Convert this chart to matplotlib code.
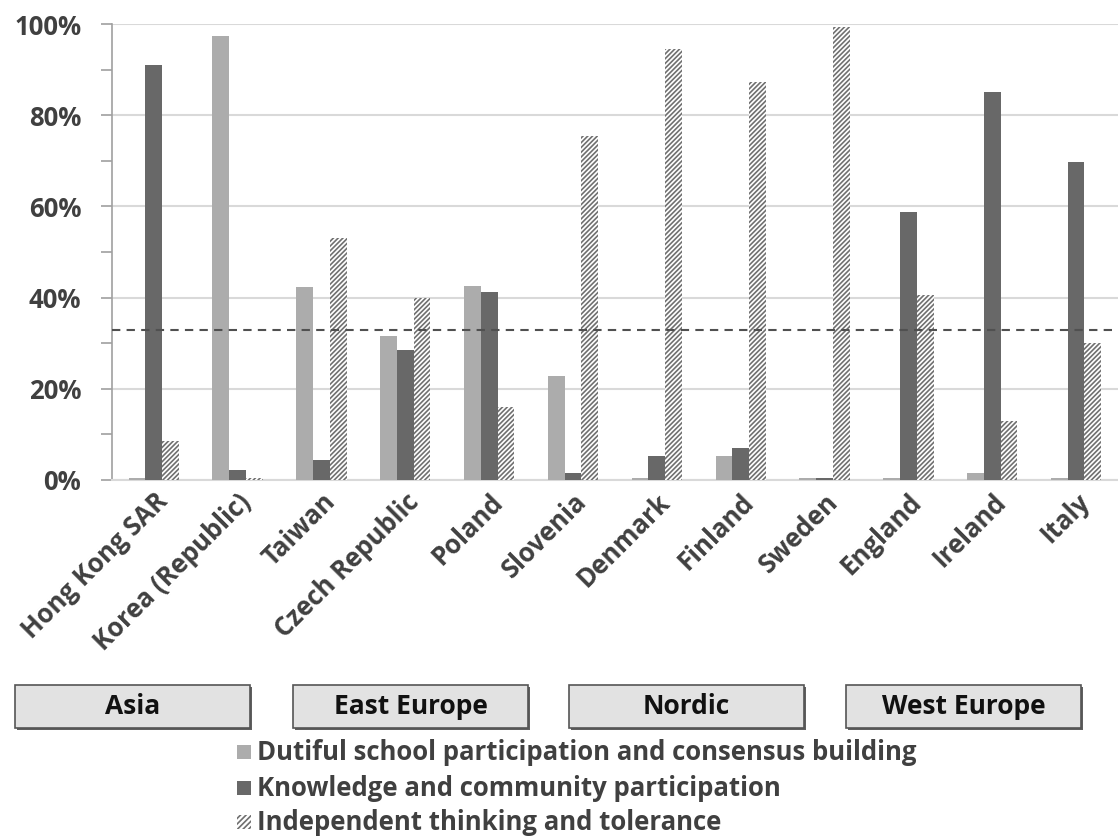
import matplotlib
matplotlib.use("Agg")
import matplotlib.pyplot as plt
from matplotlib.patches import Rectangle
import numpy as np

plt.rcParams['font.family'] = ['Open Sans', 'DejaVu Sans']
plt.rcParams['hatch.linewidth'] = 1.2
plt.rcParams['hatch.color'] = '#707070'

countries = ["Hong Kong SAR", "Korea (Republic)", "Taiwan", "Czech Republic", "Poland",
             "Slovenia", "Denmark", "Finland", "Sweden", "England", "Ireland", "Italy"]
dutiful = [0.3, 97.5, 42.3, 31.6, 42.6, 22.7, 0.4, 5.3, 0.4, 0.3, 1.5, 0.3]
knowledge = [91.1, 2.2, 4.4, 28.5, 41.3, 1.5, 5.3, 6.9, 0.5, 58.8, 85.1, 69.8]
independent = [8.6, 0.3, 53.0, 39.9, 15.9, 75.5, 94.6, 87.4, 99.3, 40.6, 12.9, 30.0]
reference_line = 33.0
regions = ["Asia", "East Europe", "Nordic", "West Europe"]
series_names = ["Dutiful school participation and consensus building",
                "Knowledge and community participation",
                "Independent thinking and tolerance"]

c_light = '#acacac'
c_dark = '#686868'
txt = '#404040'

fig = plt.figure(figsize=(11.18, 8.36), dpi=100)
ax = fig.add_axes([0.1, 0.426, 0.9, 0.545])

x = np.arange(len(countries))
w = 0.2
ax.bar(x - w, dutiful, w, color=c_light, zorder=3)
ax.bar(x, knowledge, w, color=c_dark, zorder=3)
ax.bar(x + w, independent, w, color='white', edgecolor='#707070', linewidth=0,
       hatch='///////', zorder=3)
ax.axhline(reference_line, color='#505050', linestyle=(0, (4, 3)), linewidth=1.5, zorder=4)

ax.set_xlim(-0.5, len(countries) - 0.5)
ax.set_ylim(0, 100)
ax.set_yticks(np.arange(0, 101, 20))
ax.set_yticks(np.arange(10, 100, 20), minor=True)
ax.set_yticklabels([f"{v}%" for v in range(0, 101, 20)], fontsize=18.5, fontweight='bold', color=txt)
ax.tick_params(axis='y', which='both', length=8, width=1.2, color='#a0a0a0', pad=14)
ax.grid(axis='y', which='major', color='#d9d9d9', linewidth=1.5, zorder=0)
ax.set_xticks(x)
ax.set_xticklabels(countries, rotation=45, ha='right', rotation_mode='anchor',
                   fontsize=18.5, fontweight='bold', color=txt)
ax.tick_params(axis='x', length=0, pad=6)
for s in ['top', 'right']:
    ax.spines[s].set_visible(False)
ax.spines['left'].set_color('#a0a0a0')
ax.spines['left'].set_linewidth(1.2)
ax.spines['bottom'].set_color('#d9d9d9')
ax.spines['bottom'].set_linewidth(1.5)

# Region boxes (figure pixel coords)
W, H = 1118, 836
box_x = [15, 293, 569, 846]
box_w = 235
by0, by1 = 685, 728
for bx, name in zip(box_x, regions):
    fig.patches.append(Rectangle(((bx + 2) / W, 1 - (by1 + 2) / H), box_w / W, (by1 - by0) / H,
                                 transform=fig.transFigure, facecolor='#606060', edgecolor='none'))
    fig.patches.append(Rectangle((bx / W, 1 - by1 / H), box_w / W, (by1 - by0) / H,
                                 transform=fig.transFigure, facecolor='#e2e2e2',
                                 edgecolor='#555555', linewidth=1.2))
    fig.text((bx + box_w / 2) / W, 1 - ((by0 + by1) / 2) / H, name, ha='center', va='center',
             fontsize=19, fontweight='bold', color='#111111')

# Legend
leg_y = [752, 788, 822]
styles = [dict(facecolor=c_light), dict(facecolor=c_dark),
          dict(facecolor='white', hatch='//////', edgecolor='#707070', linewidth=0)]
for yy, name, st in zip(leg_y, series_names, styles):
    sq = 14
    fig.patches.append(Rectangle((237 / W, 1 - (yy + sq / 2) / H), sq / W, sq / H,
                                 transform=fig.transFigure, **st))
    fig.text(257 / W, 1 - yy / H, name, ha='left', va='center', fontsize=18.5,
             fontweight='bold', color=txt)

fig.savefig("out.png", dpi=100)
